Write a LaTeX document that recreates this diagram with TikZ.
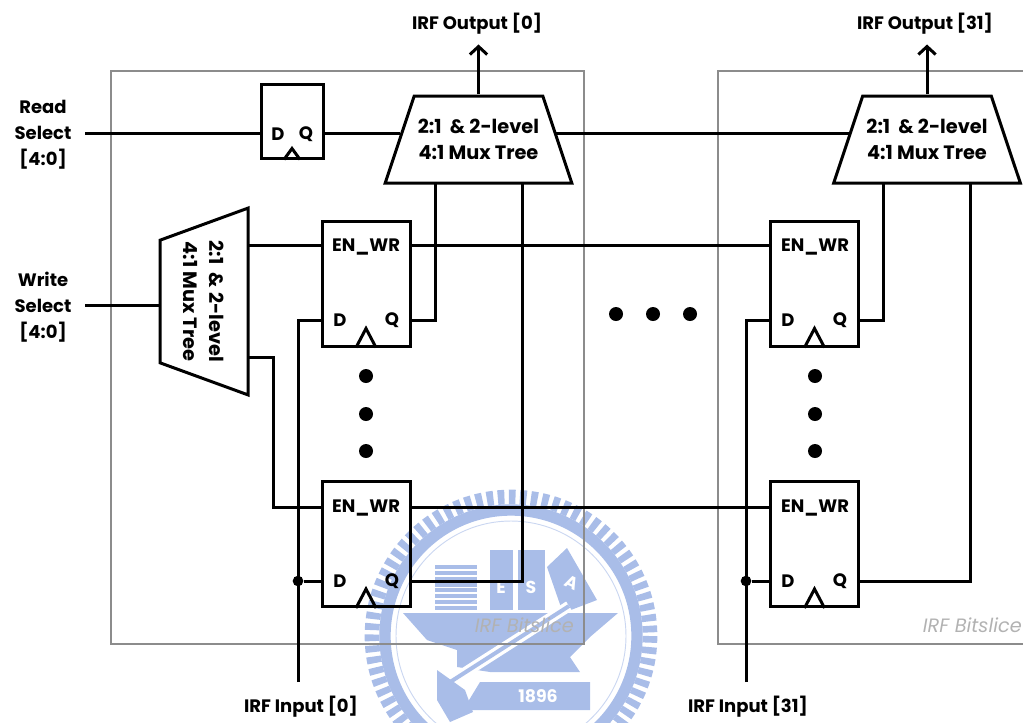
\documentclass[tikz,border=0pt]{standalone}
\usepackage{fontspec}
\setmainfont{Poppins}
\usetikzlibrary{shapes.geometric, arrows.meta}
\definecolor{wmblue}{HTML}{A9BDE8}
\definecolor{slicegray}{HTML}{8C8C8C}
\tikzset{
  block/.style={
    rectangle,
    draw=black,
    line width=2.25pt,
    minimum width=66pt,
    minimum height=93.75pt,
    inner sep=0pt
  },
  mux/.style={
    trapezium,
    draw=black,
    line width=2.25pt,
    trapezium stretches=true,
    trapezium angle=56,
    minimum width=140.25pt,
    minimum height=65.25pt,
    inner sep=0pt,
    align=center,
    font=\bfseries\fontsize{14.5}{19.5}\selectfont
  },
  port/.style={inner sep=0pt, font=\bfseries\fontsize{13.5}{16}\selectfont},
  pin/.style={align=center, inner sep=0pt, font=\bfseries\fontsize{13.5}{19.5}\selectfont},
  slice/.style={draw=slicegray, line width=1.4pt},
  slicetag/.style={anchor=east, inner sep=0pt, text=gray!60, font=\itshape\fontsize{14.5}{16}\selectfont},
  wire/.style={line width=2.25pt, line cap=butt},
  dotfill/.style={circle, fill=black, inner sep=0pt, minimum size=10.5pt}
}
\tikzstyle{arrow} = [-{Straight Barb[length=6pt, width=13pt]}, wire]
\def\muxtext{2:1~~\& 2-level\\4:1 Mux Tree}

\begin{document}
\begin{tikzpicture}[x=0.75pt, y=-0.75pt]
    \useasboundingbox (0,0) rectangle (1023,722);
    \clip (0,0) rectangle (1023,722);

    % watermark
    \draw[wmblue, line width=11pt, dash pattern=on 5pt off 3.3pt] (511,636) circle [radius=139];
    \draw[wmblue, line width=8.5pt] (511,636) circle [radius=126];
    \draw[wmblue!60, line width=0.7pt] (511,636) circle [radius=115];
    \fill[wmblue] (403,613) -- (618,613) -- (590,637) -- (570,657) -- (580,672) -- (490,672) -- (457,667) -- (457,650) -- (427,640) -- cycle;
    \draw[wmblue, line width=32pt, dash pattern=on 3pt off 1.4pt] (456,565) -- (456,610);
    \fill[wmblue] (490,550) rectangle (513,610);
    \fill[wmblue] (518,550) rectangle (545,610);
    \fill[wmblue] (567,548) -- (597,600) -- (563,613) -- (547,567) -- cycle;
    \node[text=white, inner sep=0pt, font=\bfseries\fontsize{13}{15}\selectfont] (wme) at (501,587) {E};
    \node[text=white, inner sep=0pt, font=\bfseries\fontsize{13}{15}\selectfont] (wms) at (531,587) {S};
    \node[text=white, inner sep=0pt, rotate=-25, font=\bfseries\fontsize{13}{15}\selectfont] (wma) at (572,583) {A};
    \draw[white, line width=8pt] (447,684) -- (569,606);
    \draw[wmblue, line width=3pt] (447,684) -- (569,606);
    \fill[wmblue] (437,670) -- (465,690) -- (473,712) -- (450,722) -- (437,700) -- cycle;
    \fill[wmblue] (480,682) -- (590,682) -- (590,710) -- (463,710) -- cycle;
    \node[text=white, inner sep=0pt, font=\bfseries\fontsize{13}{15}\selectfont] (wmyear) at (538,696) {1896};

    % bitslice frames
    \draw[slice] (111,71) rectangle (584,644);
    \draw[slice] (718,71) rectangle (1040,644);
    \node[slicetag] (tag0) at (574,625) {IRF Bitslice};
    \node[slicetag] (tag1) at (1022,625) {IRF Bitslice};

    % muxes
    \node[mux] (mux0) at (478.5,139.5) {\muxtext};
    \node[mux] (mux1) at (927,139.5) {\muxtext};
    \node[mux, rotate=-90, shape border rotate=180, trapezium angle=52, minimum height=66pt] (wmux) at (204,301.5) {\muxtext};

    % registers
    \node[block, minimum width=46.5pt, minimum height=55.5pt] (rreg) at (292,121) {};
    \node[block] (b00) at (366,283.5) {};
    \node[block] (b01) at (366,544) {};
    \node[block] (b10) at (814.5,283.5) {};
    \node[block] (b11) at (814.5,544) {};

    \node[port] (rd) at (278,134) {D};
    \node[port] (rq) at (306,134) {Q};
    \node[port] (en00) at (366,247) {EN\_WR};
    \node[port] (d00) at (340,320) {D};
    \node[port] (q00) at (392,320) {Q};
    \node[port] (en01) at (366,508) {EN\_WR};
    \node[port] (d01) at (340,581) {D};
    \node[port] (q01) at (392,581) {Q};
    \node[port] (en10) at (815,247) {EN\_WR};
    \node[port] (d10) at (788,320) {D};
    \node[port] (q10) at (840,320) {Q};
    \node[port] (en11) at (815,508) {EN\_WR};
    \node[port] (d11) at (788,581) {D};
    \node[port] (q11) at (840,581) {Q};

    % clock marks
    \draw[wire] ([xshift=-6pt]rreg.south) -- ++(8,-11) -- ++(8,11);
    \draw[wire] ([xshift=-7.5pt]b00.south) -- ++(10,-19) -- ++(10,19);
    \draw[wire] ([xshift=-7.5pt]b01.south) -- ++(10,-19) -- ++(10,19);
    \draw[wire] ([xshift=-7.5pt]b10.south) -- ++(10,-19) -- ++(10,19);
    \draw[wire] ([xshift=-7.5pt]b11.south) -- ++(10,-19) -- ++(10,19);

    % pins
    \node[pin] (rsel) at (43,135) {Read\\Select\\{[}4:0{]}};
    \node[pin] (wsel) at (43,307) {Write\\Select\\{[}4:0{]}};
    \node[pin] (out0) at (477,24) {IRF Output [0]};
    \node[pin] (out1) at (925,24) {IRF Output [31]};
    \node[pin] (in0) at (301,707) {IRF Input [0]};
    \node[pin] (in1) at (748,707) {IRF Input [31]};

    \coordinate (m0in) at (400,133);
    \coordinate (m0out) at (556,133);
    \coordinate (m1in) at (850,133);
    \coordinate (m0a) at (435,183);
    \coordinate (m0b) at (522,183);
    \coordinate (m1a) at (883,183);
    \coordinate (m1b) at (970,183);
    \coordinate (wmin) at (160,305);
    \coordinate (wm0) at (248,245);
    \coordinate (wm1) at (248,357);
    \coordinate (wbus) at (273,357);
    \coordinate (wlow) at (273,507);
    \coordinate (din0) at (298,682);
    \coordinate (din1) at (746,682);
    \coordinate (top0) at (298,320);
    \coordinate (top1) at (746,320);
    \coordinate (rstart) at (85,133);
    \coordinate (wstart) at (85,305);
    \node[dotfill, minimum size=8pt] (j0) at (298,581) {};
    \node[dotfill, minimum size=8pt] (j1) at (746,581) {};

    % wires
    \draw[wire] (rstart) -- (rreg.west |- rstart);
    \draw[wire] (rreg.east |- m0in) -- (m0in);
    \draw[wire] (m0out) -- (m1in);
    \draw[wire] (wstart) -- (wmin);
    \draw[arrow] (mux0.north) -- ++(0,-50);
    \draw[arrow] (mux1.north) -- ++(0,-50);
    \draw[wire] (wm0) -- (b00.west |- wm0);
    \draw[wire] (b00.east |- wm0) -- (b10.west |- wm0);
    \draw[wire] (wm1) -- (wbus) -- (wlow) -- (b01.west |- wlow);
    \draw[wire] (b01.east |- wlow) -- (b11.west |- wlow);
    \draw[wire] (din0) -- (top0) -- (b00.west |- d00);
    \draw[wire] (din1) -- (top1) -- (b10.west |- d10);
    \draw[wire] (j0) -- (b01.west |- d01);
    \draw[wire] (j1) -- (b11.west |- d11);
    \draw[wire] (b00.east |- q00) -| (m0a);
    \draw[wire] (b01.east |- q01) -| (m0b);
    \draw[wire] (b10.east |- q10) -| (m1a);
    \draw[wire] (b11.east |- q11) -| (m1b);

    % ellipsis dots
    \node[dotfill] (v00) at (366,376) {};
    \node[dotfill] (v01) at (366,414) {};
    \node[dotfill] (v02) at (366,451) {};
    \node[dotfill] (v10) at (815,376) {};
    \node[dotfill] (v11) at (815,414) {};
    \node[dotfill] (v12) at (815,451) {};
    \node[dotfill] (h0) at (616,314) {};
    \node[dotfill] (h1) at (653,314) {};
    \node[dotfill] (h2) at (690,314) {};
\end{tikzpicture}
\end{document}
